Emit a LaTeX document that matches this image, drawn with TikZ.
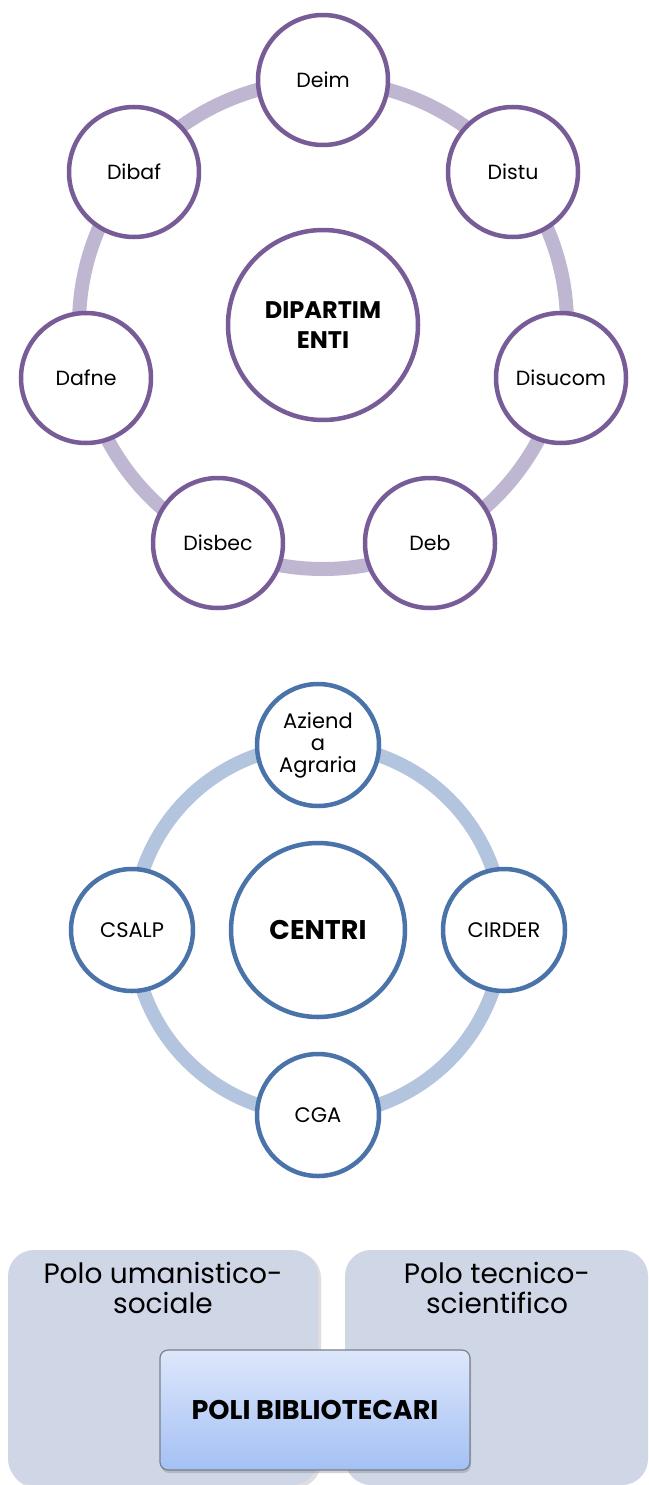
\documentclass[tikz,border=0pt]{standalone}
\usepackage{fontspec}
\setmainfont{Poppins}
\usetikzlibrary{shadows}
\definecolor{purpring}{HTML}{BFB6D2}
\definecolor{purpline}{HTML}{775C97}
\definecolor{bluering}{HTML}{B3C4DF}
\definecolor{blueline}{HTML}{4A73AA}
\definecolor{polofill}{HTML}{CFD6E6}
\definecolor{gradtop}{HTML}{DDE7FB}
\definecolor{gradbot}{HTML}{A4C0F4}
\definecolor{poliborder}{HTML}{7A8088}
\begin{document}
\begin{tikzpicture}[x=1pt,y=-1pt,
  pnode/.style={circle,draw=purpline,line width=4.5pt,fill=white,minimum size=130pt,inner sep=0pt,font=\fontsize{20.5}{24}\selectfont,align=center},
  pcenter/.style={pnode,minimum size=190pt,font=\fontsize{24}{30}\selectfont\bfseries},
  bnode/.style={circle,draw=blueline,line width=4.5pt,fill=white,minimum size=122pt,inner sep=0pt,font=\fontsize{21}{22}\selectfont,align=center},
  bcenter/.style={bnode,minimum size=174pt,font=\fontsize{27}{30}\selectfont\bfseries},
  polo/.style={draw=none,fill=polofill,rounded corners=26pt},
  polotext/.style={font=\fontsize{28}{30}\selectfont,align=center,text=black},
  poli/.style={draw=poliborder,line width=1.2pt,rounded corners=8pt,top color=gradtop,bottom color=gradbot,drop shadow={opacity=0.35,shadow xshift=1pt,shadow yshift=-3pt},font=\fontsize{27}{30}\selectfont\bfseries}
]
\useasboundingbox (0,0) rectangle (648,1485);
\fill[white] (0,0) rectangle (648,1485);

% ---- DIPARTIMENTI ----
\coordinate (dc) at (323,325);
\draw[purpring,line width=14pt] (dc) circle[radius=244pt];
\node[pcenter] (dip) at (dc) {DIPARTIM\\ENTI};
\node[pnode] (deim) at (323,80) {Deim};
\node[pnode] (distu) at (513,172) {Distu};
\node[pnode] (disucom) at (561,378) {Disucom};
\node[pnode] (deb) at (430,543) {Deb};
\node[pnode] (disbec) at (218,543) {Disbec};
\node[pnode] (dafne) at (86,378) {Dafne};
\node[pnode] (dibaf) at (134,172) {Dibaf};

% ---- CENTRI ----
\coordinate (cc) at (318,930);
\draw[bluering,line width=14pt] (cc) circle[radius=185pt];
\node[bcenter] (centri) at (cc) {CENTRI};
\node[bnode] (azienda) at (318,745) {Aziend\\a\\Agraria};
\node[bnode] (cirder) at (504,930) {CIRDER};
\node[bnode] (cga) at (318,1115) {CGA};
\node[bnode] (csalp) at (132,930) {CSALP};

% ---- POLI ----
\fill[black!25,opacity=0.5,rounded corners=26pt] (10,1252) rectangle (321,1488);
\fill[polo] (8,1250) rectangle (318,1485);
\fill[polo] (345,1250) rectangle (648,1485);
\node[polotext] (pum) at (163,1288) {Polo umanistico-\\sociale};
\node[polotext] (ptec) at (497,1288) {Polo tecnico-\\scientifico};
\node[poli,minimum width=310pt,minimum height=120pt] (poli) at (315,1410) {POLI BIBLIOTECARI};
\end{tikzpicture}
\end{document}
